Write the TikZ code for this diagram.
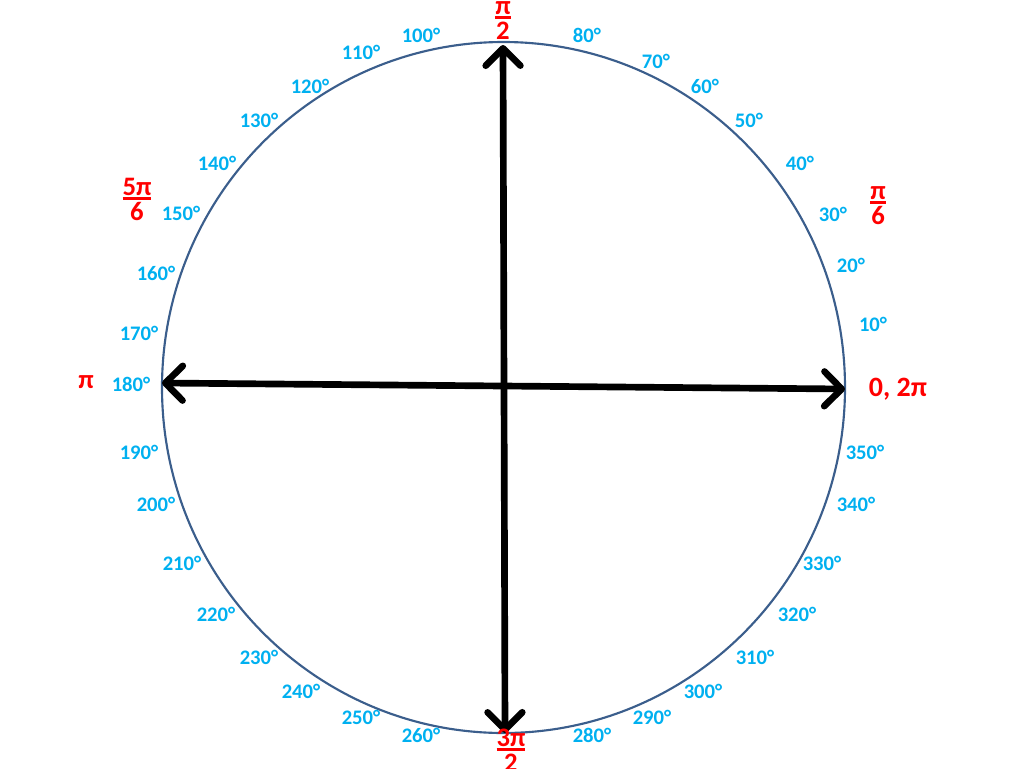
\documentclass[tikz,border=0pt]{standalone}
\usepackage{fontspec}
\setmainfont{Carlito}
\usetikzlibrary{arrows.meta}
\definecolor{ringblue}{HTML}{3B5E8C}
\definecolor{degcyan}{HTML}{00B0F0}
\definecolor{radred}{HTML}{FF0000}
\newcommand{\radfrac}[2]{\begin{tabular}{@{}c@{}}#1\\[-5pt]\noalign{\hrule height 1.8pt}\rule{0pt}{16pt}#2\end{tabular}}
\begin{document}
\begin{tikzpicture}[x=0.75pt,y=-0.75pt]
  \tikzstyle{deg}=[text=degcyan,font=\bfseries\fontsize{15.5}{17}\selectfont,inner sep=0pt]
  \tikzstyle{rad}=[text=radred,font=\bfseries\fontsize{20}{20}\selectfont,inner sep=0pt]
  \tikzstyle{axis}=[line width=5pt,{Straight Barb[length=13pt,width=26pt,line cap=round,line join=round]}-{Straight Barb[length=13pt,width=26pt,line cap=round,line join=round]}]
  \useasboundingbox (0,0) rectangle (1024,768);
  % unit circle
  \draw[ringblue,line width=1.6pt] (503.5,387.5) ellipse [x radius=341.5,y radius=345.5];
  \coordinate (E) at (845,389);
  \coordinate (W) at (162,383);
  \coordinate (N) at (503,45);
  \coordinate (S) at (505,733);
  \draw[axis] (W) -- (E);
  \draw[axis] (S) -- (N);
  % degrees
  \node[deg] (D10)  at (873,324) {10°};
  \node[deg] (D20)  at (851,265) {20°};
  \node[deg] (D30)  at (833,214) {30°};
  \node[deg] (D40)  at (800,163) {40°};
  \node[deg] (D50)  at (749,120) {50°};
  \node[deg] (D60)  at (705,86)  {60°};
  \node[deg] (D70)  at (656,61)  {70°};
  \node[deg] (D80)  at (587,35)  {80°};
  \node[deg] (D100) at (421,35)  {100°};
  \node[deg] (D110) at (361,52)  {110°};
  \node[deg] (D120) at (310,86)  {120°};
  \node[deg] (D130) at (259,120) {130°};
  \node[deg] (D140) at (217,163) {140°};
  \node[deg] (D150) at (181,213) {150°};
  \node[deg] (D160) at (156,273) {160°};
  \node[deg] (D170) at (139,333) {170°};
  \node[deg] (D180) at (131,384) {180°};
  \node[deg] (D190) at (139,452) {190°};
  \node[deg] (D200) at (156,504) {200°};
  \node[deg] (D210) at (182,563) {210°};
  \node[deg] (D220) at (216,614) {220°};
  \node[deg] (D230) at (259,657) {230°};
  \node[deg] (D240) at (301,691) {240°};
  \node[deg] (D250) at (361,717) {250°};
  \node[deg] (D260) at (421,735) {260°};
  \node[deg] (D280) at (592,735) {280°};
  \node[deg] (D290) at (652,717) {290°};
  \node[deg] (D300) at (703,691) {300°};
  \node[deg] (D310) at (755,657) {310°};
  \node[deg] (D320) at (797,614) {320°};
  \node[deg] (D330) at (822,563) {330°};
  \node[deg] (D340) at (856,504) {340°};
  \node[deg] (D350) at (865,452) {350°};
  % radians
  \node[rad] (R0)   at (898,389) {\fontsize{21}{21}\selectfont 0, 2π};
  \node[rad] (R30)  at (878,207) {\radfrac{π}{6}};
  \node[rad] (R90)  at (503,22)  {\radfrac{π}{2}};
  \node[rad] (R150) at (137,203) {\radfrac{5π}{6}};
  \node[rad] (R180) at (86,382)  {π};
  \node[rad] (R270) at (511,754) {\radfrac{3π}{2}};
\end{tikzpicture}
\end{document}
